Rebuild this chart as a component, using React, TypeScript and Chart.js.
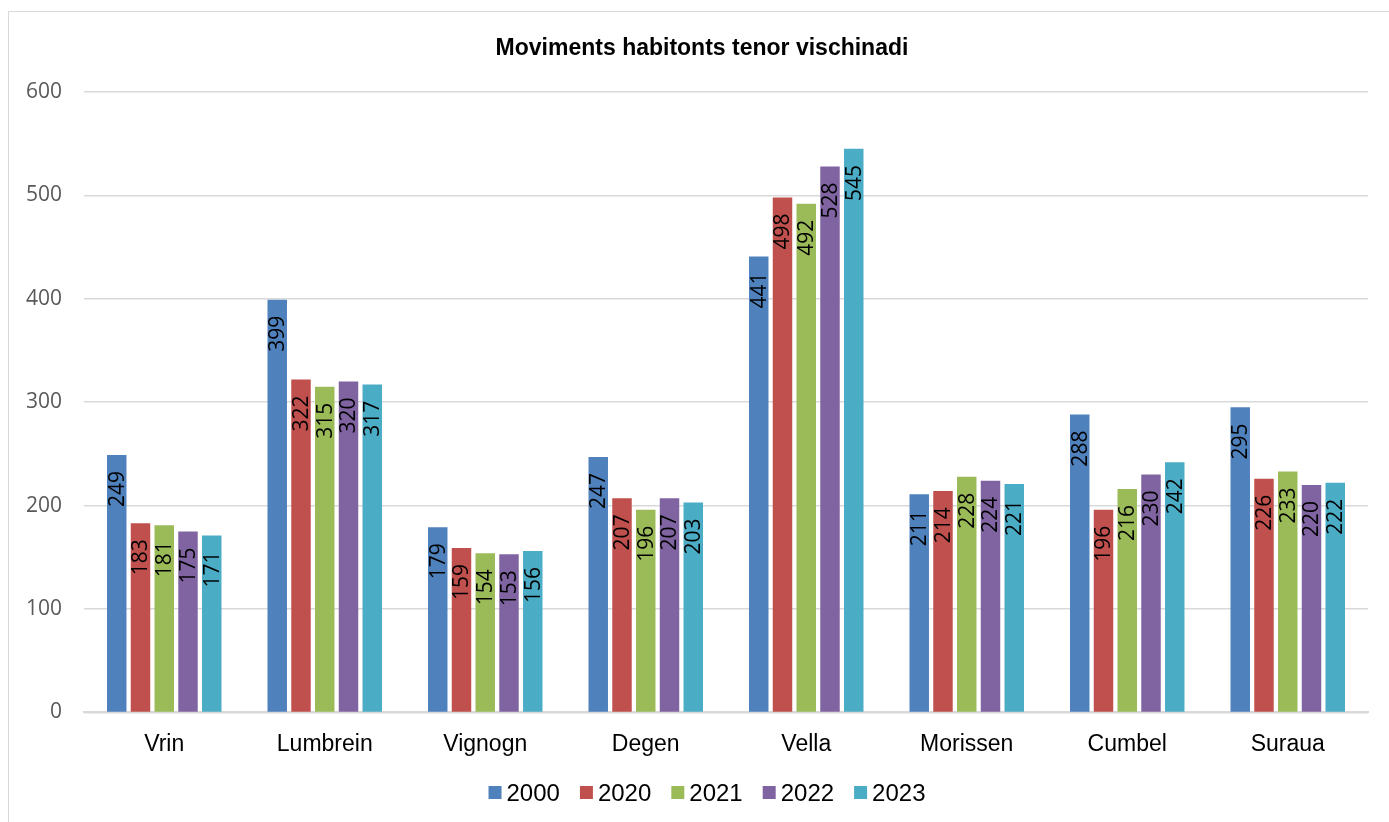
import React, { useEffect, useRef } from "react";
import { Chart, registerables } from "chart.js";

Chart.register(...registerables);

const titleText = "Moviments habitonts tenor vischinadi";
const categories = ["Vrin", "Lumbrein", "Vignogn", "Degen", "Vella", "Morissen", "Cumbel", "Suraua"];
const seriesNames = ["2000", "2020", "2021", "2022", "2023"];
const values2000 = [249, 399, 179, 247, 441, 211, 288, 295];
const values2020 = [183, 322, 159, 207, 498, 214, 196, 226];
const values2021 = [181, 315, 154, 196, 492, 228, 216, 233];
const values2022 = [175, 320, 153, 207, 528, 224, 230, 220];
const values2023 = [171, 317, 156, 203, 545, 221, 242, 222];
const seriesColors = ["#4F81BD", "#C0504D", "#9BBB59", "#8064A2", "#4BACC6"];
const yMin = 0;
const yMax = 600;
const yStep = 100;

const allValues = [values2000, values2020, values2021, values2022, values2023];

const barLabelPlugin = {
  id: "barLabels",
  afterDatasetsDraw(chart: any) {
    const ctx = chart.ctx;
    ctx.save();
    ctx.font = "21px 'Open Sans'";
    ctx.fillStyle = "#000000";
    ctx.textAlign = "right";
    ctx.textBaseline = "middle";
    chart.data.datasets.forEach((ds: any, di: number) => {
      const meta = chart.getDatasetMeta(di);
      meta.data.forEach((bar: any, i: number) => {
        const v = ds.data[i];
        ctx.save();
        ctx.translate(bar.x, bar.y + 16);
        ctx.rotate(-Math.PI / 2);
        ctx.fillText(String(v), 0, 1);
        ctx.restore();
      });
    });
    ctx.restore();
  },
};

const titleLegendPlugin = {
  id: "titleLegend",
  afterDraw(chart: any) {
    const ctx = chart.ctx;
    ctx.save();
    // title
    ctx.font = "bold 23px 'Liberation Sans', Arial";
    ctx.fillStyle = "#000000";
    ctx.textAlign = "center";
    ctx.textBaseline = "alphabetic";
    ctx.fillText(titleText, 702, 55);
    // legend
    ctx.font = "24px 'Liberation Sans', Arial";
    const box = 13;
    const gapBoxText = 5;
    const gapItems = 20;
    const items = chart.data.datasets.map((ds: any) => ({
      text: ds.label,
      color: ds.backgroundColor,
      w: ctx.measureText(ds.label).width,
    }));
    const total =
      items.reduce((s: number, it: any) => s + box + gapBoxText + it.w, 0) + gapItems * (items.length - 1);
    let x = 707 - total / 2;
    ctx.textAlign = "left";
    items.forEach((it: any) => {
      ctx.fillStyle = it.color;
      ctx.fillRect(x, 786, box, box);
      ctx.fillStyle = "#000000";
      ctx.fillText(it.text, x + box + gapBoxText, 801);
      x += box + gapBoxText + it.w + gapItems;
    });
    ctx.restore();
  },
};

export default function App() {
  const ref = useRef<HTMLCanvasElement | null>(null);
  useEffect(() => {
    if (!ref.current) return;
    const chart = new Chart(ref.current, {
      type: "bar",
      data: {
        labels: categories,
        datasets: seriesNames.map((name, i) => ({
          label: name,
          data: allValues[i],
          backgroundColor: seriesColors[i],
          borderWidth: 0,
          barPercentage: 0.82,
          categoryPercentage: 0.74,
        })),
      },
      options: {
        responsive: false,
        animation: false,
        layout: { padding: { left: 0, right: 21, top: 92, bottom: 54 } },
        scales: {
          x: {
            grid: { display: false },
            border: { display: true, color: "#d9d9d9", width: 2 },
            ticks: {
              color: "#000000",
              font: { family: "'Liberation Sans', Arial", size: 23 },
              padding: 10,
              maxRotation: 0,
            },
          },
          y: {
            min: yMin,
            max: yMax,
            ticks: {
              stepSize: yStep,
              color: "#595959",
              font: { family: "'Open Sans'", size: 21 },
              padding: 22,
            },
            grid: { color: "#d9d9d9", lineWidth: 1.5, drawTicks: false },
            border: { display: false },
            afterFit: (scale: any) => {
              scale.width = 84;
            },
          },
        },
        plugins: {
          title: { display: false },
          legend: { display: false },
          tooltip: { enabled: false },
        },
      },
      plugins: [barLabelPlugin, titleLegendPlugin],
    });
    return () => chart.destroy();
  }, []);

  return (
    <div style={{ position: "fixed", left: 0, top: 0, width: 1389, height: 822, overflow: "hidden", background: "#ffffff" }}>
      <div
        style={{
          position: "absolute",
          left: 8,
          top: 11,
          width: 1400,
          height: 900,
          borderLeft: "1px solid #d9d9d9",
          borderTop: "1px solid #d9d9d9",
          boxSizing: "border-box",
        }}
      />
      <canvas ref={ref} width={1389} height={822} style={{ position: "absolute", left: 0, top: 0 }} />
    </div>
  );
}
